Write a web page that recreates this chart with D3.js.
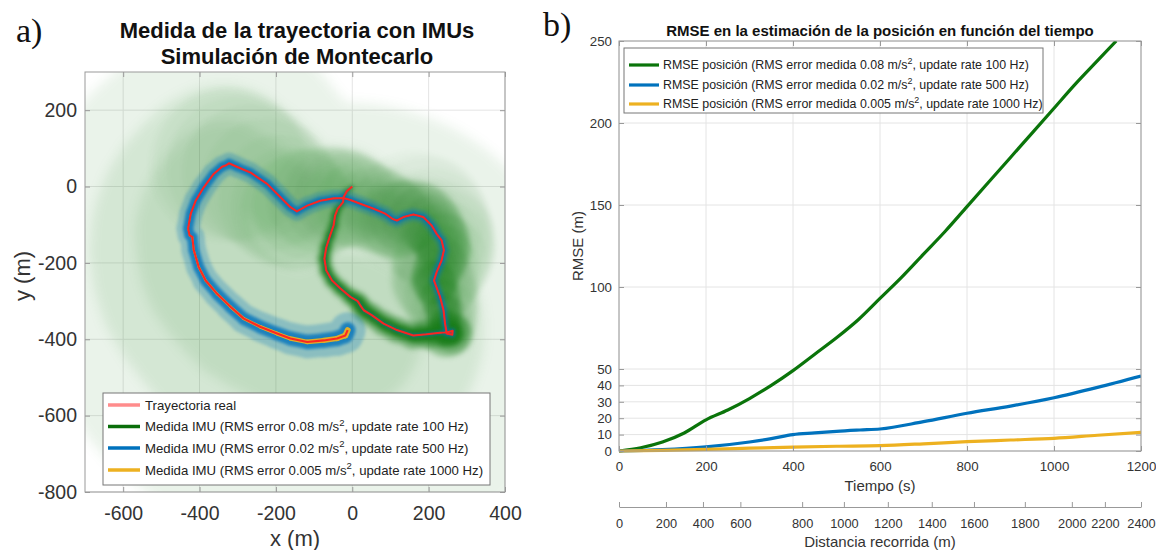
<!DOCTYPE html>
<html><head><meta charset="utf-8">
<script src="https://cdn.jsdelivr.net/npm/d3@7"></script>
<style>
body{margin:0;background:#fff;}
svg text{font-family:"Liberation Sans",Arial,Helvetica,sans-serif;}
</style>
</head><body>
<svg id="c" width="1156" height="550"></svg>
<script>
// ---------------- DATA ----------------
// Left panel: real trajectory (m)
const trajX=[0,-14,-23,-24,-38,-45,-49,-58,-68,-73,-68,-53,-31,-5,14,21,30,51,82,117,160,195,230,252,263,262,247,246,243,239,230,217,214,221,234,240,234,221,208,186,160,134,117,106,86,56,21,-5,-23,-49,-84,-118,-145,-162,-188,-223,-267,-301,-323,-332,-341,-363,-389,-410,-423,-430,-426,-419,-415,-402,-384,-354,-319,-284,-240,-197,-162,-118,-75,-40,-18,-12];
const trajY=[0,-12,-28,-41,-58,-76,-102,-128,-159,-189,-220,-246,-267,-289,-300,-311,-324,-337,-359,-376,-390,-387,-383,-381,-378,-388,-385,-376,-359,-324,-289,-254,-246,-224,-193,-167,-141,-124,-102,-80,-73,-80,-89,-85,-71,-58,-45,-35,-30,-31,-37,-50,-65,-54,-28,7,37,51,61,55,52,33,-2,-37,-71,-110,-128,-132,-167,-211,-246,-281,-315,-346,-368,-385,-398,-407,-403,-398,-390,-376];
// Monte Carlo spread (m) of each IMU estimate along the trajectory
const greenSpread=[3,4,5,6,7,8,9,10,11,12,12,13,13,14,15,16,17,18,19,20,21,22,23,24,26,30,34,40,46,52,58,62,66,70,74,78,82,86,90,95,100,105,110,115,120,125,130,136,142,148,155,162,170,178,186,194,202,210,218,226,234,242,250,258,266,274,282,290,298,306,314,322,330,338,346,354,362,370,378,386,394,400];
const blueSpread=[0.8,0.8,0.8,0.8,0.8,0.8,1,1,1,1,1.2,1.2,1.4,1.4,1.6,1.6,1.8,1.8,2,2.2,2.4,2.6,2.8,3,3.2,4,4,4.5,4.5,5,5,5,5.5,5.5,6,6,6,6.5,6.5,6.5,7,7,7,7.5,7.5,8,8,8.5,8.5,9,9,9.5,9.5,10,10,10.5,10.5,11,11,11,11.5,11.5,12,12,12,12,12.5,12.5,13,13,13.5,14,14.5,15,15.5,16,16.5,17,17.5,18,18.5,19];
const yellowSpread=[0.8,0.8,0.8,0.8,0.8,0.8,0.8,0.8,0.8,0.8,0.8,0.8,0.8,0.8,0.8,0.8,0.8,0.8,0.8,0.8,0.8,0.8,0.8,0.8,0.8,0.8,0.8,0.8,0.8,0.8,0.8,0.8,0.8,0.8,0.8,0.8,0.8,0.8,0.8,0.8,1.2,1.2,1.2,1.2,1.2,1.2,1.2,1.2,1.2,1.2,1.2,1.2,1.2,1.2,1.2,1.2,1.2,1.2,1.2,1.2,1.2,1.2,1.2,1.2,1.5,2,2,2.5,2.5,3,3,3.5,3.5,4,4.5,5,5.5,6,6.5,7,7.5,8];
const xTicksL=[-600,-400,-200,0,200,400];
const yTicksL=[-800,-600,-400,-200,0,200];
const legendLeftPre=["Trayectoria real","Medida IMU (RMS error 0.08 m/s","Medida IMU (RMS error 0.02 m/s","Medida IMU (RMS error 0.005 m/s"];
const legendLeftPost=["",", update rate 100 Hz)",", update rate 500 Hz)",", update rate 1000 Hz)"];

// Right panel: RMSE (m) vs time (s)
const tGreen=[0,50,100,150,200,250,300,350,400,450,500,550,600,650,700,750,800,850,900,950,1000,1050,1100,1143];
const rmseGreen=[0,2,5.5,11,19,25,32,40,49,59,69,80,93,106,120,134,149,164,179,194,209,224,238,250];
const tBlue=[0,100,200,300,350,400,450,500,554,600,700,800,900,1000,1100,1200];
const rmseBlue=[0,0.8,2.5,5.5,7.5,10,11,12,12.8,13.4,17.9,23,27.4,32.5,38.8,45.7];
const tYellow=[0,100,200,300,400,500,600,700,800,900,1000,1100,1200];
const rmseYellow=[0,0.4,1,1.7,2.4,2.9,3.3,4.4,5.7,6.7,7.7,9.6,11.4];
const xTicksR=[0,200,400,600,800,1000,1200];
const yTicksR=[0,10,20,30,40,50,100,150,200,250];
const distTicks=[0,200,400,600,800,1000,1200,1400,1600,1800,2000,2200,2400];
const distTickTimes=[0,108,193,279,421,517,618,719,816,933,1041,1117,1200];
const legendRightPre=["RMSE posición (RMS error medida 0.08 m/s","RMSE posición (RMS error medida 0.02 m/s","RMSE posición (RMS error medida 0.005 m/s"];
const legendRightPost=[", update rate 100 Hz)",", update rate 500 Hz)",", update rate 1000 Hz)"];

// ---------------- STYLE ----------------
const cGreen="#1a7d1a", cBlue="#0072BD", cYellow="#EDB120", cRed="#ff2020", cRedLeg="#ff8c8c";
const axisCol="#999999", textCol="#333333", gridCol="#e4e4e4";
const fmt=d=>String(d);

const svg=d3.select("#c");
const defs=svg.append("defs");
function blur(id,sd){defs.append("filter").attr("id",id).attr("filterUnits","userSpaceOnUse")
  .attr("x",0).attr("y",0).attr("width",1156).attr("height",550).attr("color-interpolation-filters","sRGB")
  .append("feGaussianBlur").attr("stdDeviation",sd);}
blur("bG",2.5); blur("bW",6); blur("bB",1.6); blur("bY",0.6);

// ---------------- LEFT PANEL ----------------
const L={x0:85,x1:505,y0:72,y1:492};
const xL=d3.scaleLinear().domain([-700,400]).range([L.x0,L.x1]);
const yL=d3.scaleLinear().domain([-800,300]).range([L.y1,L.y0]);
const kL=(L.x1-L.x0)/1100;
defs.append("clipPath").attr("id","clipL").append("rect").attr("x",L.x0).attr("y",L.y0).attr("width",L.x1-L.x0).attr("height",L.y1-L.y0);

const gl=svg.append("g");
gl.selectAll(".gx").data(xTicksL).join("line").attr("x1",d=>xL(d)).attr("x2",d=>xL(d)).attr("y1",L.y0).attr("y2",L.y1).attr("stroke",gridCol);
gl.selectAll(".gy").data(yTicksL).join("line").attr("y1",d=>yL(d)).attr("y2",d=>yL(d)).attr("x1",L.x0).attr("x2",L.x1).attr("stroke",gridCol);

const N=trajX.length;
function segs(arr){return d3.range(N-1).map(i=>({x1:xL(trajX[i]),y1:yL(trajY[i]),x2:xL(trajX[i+1]),y2:yL(trajY[i+1]),s:(arr[i]+arr[i+1])/2}));}
const clipG=gl.append("g").attr("clip-path","url(#clipL)");

function band(parent,arr,col,layers,filt){
  const g=parent.append("g").attr("filter",filt);
  layers.forEach(ly=>{
    g.append("g").attr("opacity",ly.o).selectAll("line").data(segs(arr)).join("line")
     .attr("x1",d=>d.x1).attr("y1",d=>d.y1).attr("x2",d=>d.x2).attr("y2",d=>d.y2)
     .attr("stroke",col).attr("stroke-linecap","round").attr("stroke-width",d=>2*d.s*ly.m*kL);
  });
}
// green Monte Carlo cloud: broad faint unions
band(clipG,greenSpread,cGreen,[{m:1.5,o:0.09},{m:0.9,o:0.1},{m:0.5,o:0.1}],"url(#bW)");
// denser part where the spread is still small
const gG=clipG.append("g").attr("filter","url(#bG)");
const gLayers=[{m:1.7,f:0.3},{m:0.9,f:1}];
gLayers.forEach(ly=>{
  const dd=segs(greenSpread).map(d=>Object.assign({},d,{a:Math.min(0.85,100/Math.pow(d.s,1.5))*ly.f})).filter(d=>d.a>=0.03);
  gG.append("g").selectAll("line").data(dd).join("line")
   .attr("x1",d=>d.x1).attr("y1",d=>d.y1).attr("x2",d=>d.x2).attr("y2",d=>d.y2)
   .attr("stroke",cGreen).attr("stroke-linecap","round")
   .attr("stroke-width",d=>2*d.s*ly.m*kL).attr("stroke-opacity",d=>d.a);
});
band(clipG,blueSpread,cBlue,[{m:2.5,o:0.28},{m:1.1,o:0.8}],"url(#bB)");
band(clipG,yellowSpread,cYellow,[{m:1,o:0.95}],"url(#bY)");
clipG.append("path").datum(d3.range(N)).attr("fill","none").attr("stroke",cRed).attr("stroke-width",2.1)
  .attr("stroke-linejoin","round").attr("stroke-opacity",0.95)
  .attr("d",d3.line().x(i=>xL(trajX[i])).y(i=>yL(trajY[i])));

function styleAxis(g,fs){g.attr("color",axisCol).attr("font-family",null).attr("font-size",fs);
  g.select(".domain").remove(); g.selectAll("text").attr("fill",textCol);}
gl.append("g").attr("transform",`translate(0,${L.y1})`).call(d3.axisBottom(xL).tickValues(xTicksL).tickFormat(fmt).tickSize(-5).tickSizeOuter(0).tickPadding(14)).call(g=>styleAxis(g,19.5));
gl.append("g").attr("transform",`translate(0,${L.y0})`).call(d3.axisTop(xL).tickValues(xTicksL).tickSize(-5).tickSizeOuter(0).tickFormat("")).call(g=>styleAxis(g,19.5));
gl.append("g").attr("transform",`translate(${L.x0},0)`).call(d3.axisLeft(yL).tickValues(yTicksL).tickFormat(fmt).tickSize(-5).tickSizeOuter(0).tickPadding(8)).call(g=>styleAxis(g,19.5));
gl.append("g").attr("transform",`translate(${L.x1},0)`).call(d3.axisRight(yL).tickValues(yTicksL).tickSize(-5).tickSizeOuter(0).tickFormat("")).call(g=>styleAxis(g,19.5));
gl.append("rect").attr("x",L.x0).attr("y",L.y0).attr("width",L.x1-L.x0).attr("height",L.y1-L.y0).attr("fill","none").attr("stroke",axisCol);

gl.append("text").attr("x",(L.x0+L.x1)/2).attr("y",546).attr("text-anchor","middle").attr("font-size",22).attr("fill",textCol).text("x (m)");
gl.append("text").attr("transform","translate(30,276) rotate(-90)").attr("text-anchor","middle").attr("font-size",22).attr("fill",textCol).text("y (m)");
gl.append("text").attr("x",297).attr("y",38).attr("text-anchor","middle").attr("font-size",22).attr("font-weight","bold").attr("fill","#111").text("Medida de la trayectoria con IMUs");
gl.append("text").attr("x",297).attr("y",64).attr("text-anchor","middle").attr("font-size",22).attr("font-weight","bold").attr("fill","#111").text("Simulación de Montecarlo");
svg.append("text").attr("x",16).attr("y",42).style("font-family","'Liberation Serif',serif").attr("font-size",34).attr("fill","#111").text("a)");
svg.append("text").attr("x",543).attr("y",36).style("font-family","'Liberation Serif',serif").attr("font-size",34).attr("fill","#111").text("b)");

function legendText(parent,x,y,pre,post,fs){
  const t=parent.append("text").attr("x",x).attr("y",y).attr("font-size",fs).attr("fill","#222");
  t.append("tspan").text(pre);
  if(post){t.append("tspan").attr("dy",-fs*0.42).attr("font-size",fs*0.72).text("2");
    t.append("tspan").attr("dy",fs*0.42).text(post);}
}
const legL=gl.append("g");
legL.append("rect").attr("x",103).attr("y",393).attr("width",387).attr("height",92).attr("fill","#fff").attr("stroke","#777");
const legLCols=[cRedLeg,"#0a6e0a",cBlue,cYellow];
const legLY=[405,426.5,448,470];
legendLeftPre.forEach((p,i)=>{
  legL.append("line").attr("x1",108).attr("x2",140).attr("y1",legLY[i]).attr("y2",legLY[i]).attr("stroke",legLCols[i]).attr("stroke-width",3.5);
  legendText(legL,145,legLY[i]+4.6,p,legendLeftPost[i],13.2);
});

// ---------------- RIGHT PANEL ----------------
const R={x0:619,x1:1141,y0:41,y1:451};
const xR=d3.scaleLinear().domain([0,1200]).range([R.x0,R.x1]);
const yR=d3.scaleLinear().domain([0,250]).range([R.y1,R.y0]);
const gr=svg.append("g");
gr.selectAll(".gx").data(xTicksR).join("line").attr("x1",d=>xR(d)).attr("x2",d=>xR(d)).attr("y1",R.y0).attr("y2",R.y1).attr("stroke",gridCol);
gr.selectAll(".gy").data(yTicksR).join("line").attr("y1",d=>yR(d)).attr("y2",d=>yR(d)).attr("x1",R.x0).attr("x2",R.x1).attr("stroke",gridCol);
defs.append("clipPath").attr("id","clipR").append("rect").attr("x",R.x0).attr("y",R.y0).attr("width",R.x1-R.x0).attr("height",R.y1-R.y0+2);
const cr=gr.append("g").attr("clip-path","url(#clipR)");
const series=[{t:tGreen,v:rmseGreen,c:"#0a740a"},{t:tBlue,v:rmseBlue,c:cBlue},{t:tYellow,v:rmseYellow,c:cYellow}];
series.forEach(s=>{
  cr.append("path").datum(d3.range(s.t.length)).attr("fill","none").attr("stroke",s.c).attr("stroke-width",3.2)
   .attr("stroke-linejoin","round").attr("d",d3.line().curve(d3.curveMonotoneX).x(i=>xR(s.t[i])).y(i=>yR(s.v[i])));
});
gr.append("g").attr("transform",`translate(0,${R.y1})`).call(d3.axisBottom(xR).tickValues(xTicksR).tickFormat(fmt).tickSize(-5).tickSizeOuter(0).tickPadding(11)).call(g=>styleAxis(g,13.3));
gr.append("g").attr("transform",`translate(0,${R.y0})`).call(d3.axisTop(xR).tickValues(xTicksR).tickSize(-5).tickSizeOuter(0).tickFormat("")).call(g=>styleAxis(g,13.3));
gr.append("g").attr("transform",`translate(${R.x0},0)`).call(d3.axisLeft(yR).tickValues(yTicksR).tickFormat(fmt).tickSize(-5).tickSizeOuter(0).tickPadding(7)).call(g=>styleAxis(g,13.3));
gr.append("g").attr("transform",`translate(${R.x1},0)`).call(d3.axisRight(yR).tickValues(yTicksR).tickSize(-5).tickSizeOuter(0).tickFormat("")).call(g=>styleAxis(g,13.3));
gr.append("rect").attr("x",R.x0).attr("y",R.y0).attr("width",R.x1-R.x0).attr("height",R.y1-R.y0).attr("fill","none").attr("stroke",axisCol);
const distScale=d3.scaleLinear().domain(distTicks).range(distTickTimes.map(t=>xR(t)));
gr.append("g").attr("transform","translate(0,507)").call(d3.axisBottom(distScale).tickValues(distTicks).tickFormat(fmt).tickSize(-5).tickSizeOuter(0).tickPadding(11.5))
  .call(g=>{g.attr("color",axisCol).attr("font-family",null).attr("font-size",12.8);g.selectAll("text").attr("fill",textCol);});
gr.append("text").attr("x",880).attr("y",491).attr("text-anchor","middle").attr("font-size",15).attr("fill",textCol).text("Tiempo (s)");
gr.append("text").attr("x",880).attr("y",547).attr("text-anchor","middle").attr("font-size",15).attr("fill",textCol).text("Distancia recorrida (m)");
gr.append("text").attr("transform","translate(583,246) rotate(-90)").attr("text-anchor","middle").attr("font-size",15).attr("fill",textCol).text("RMSE (m)");
gr.append("text").attr("x",880).attr("y",36).attr("text-anchor","middle").attr("font-size",15).attr("font-weight","bold").attr("fill","#111").text("RMSE en la estimación de la posición en función del tiempo");
const legR=gr.append("g");
legR.append("rect").attr("x",624).attr("y",48).attr("width",419).attr("height",65).attr("fill","#fff").attr("stroke","#777");
const legRY=[65,85,104];
legendRightPre.forEach((p,i)=>{
  legR.append("line").attr("x1",629).attr("x2",659).attr("y1",legRY[i]).attr("y2",legRY[i]).attr("stroke",series[i].c).attr("stroke-width",3.2);
  legendText(legR,663,legRY[i]+4.3,p,legendRightPost[i],12.4);
});
</script>
</body></html>
